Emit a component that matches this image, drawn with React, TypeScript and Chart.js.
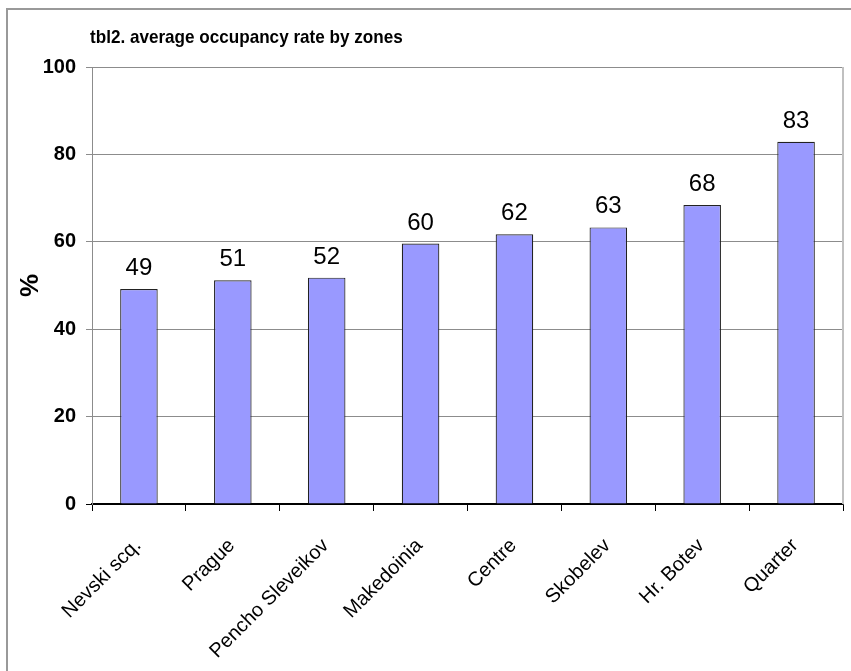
import React, { useEffect, useRef } from "react";
import { Chart, registerables } from "chart.js";

Chart.register(...registerables);

const TITLE = "tbl2. average occupancy rate by zones";
const Y_TITLE = "%";
const categories = [
  "Nevski scq.",
  "Prague",
  "Pencho Sleveikov",
  "Makedoinia",
  "Centre",
  "Skobelev",
  "Hr. Botev",
  "Quarter",
];
const occupancy = [49.2, 51.2, 51.8, 59.6, 61.7, 63.3, 68.4, 82.9];
const Y_MIN = 0;
const Y_MAX = 100;
const Y_STEP = 20;

const FONT = 'Arial, "Liberation Sans", sans-serif';

const decorPlugin = {
  id: "decor",
  afterDatasetsDraw(chart: any) {
    const { ctx, chartArea } = chart;
    ctx.save();
    // right border of plot area
    ctx.strokeStyle = "#c0c0c0";
    ctx.lineWidth = 2;
    ctx.beginPath();
    ctx.moveTo(chartArea.right, chartArea.top);
    ctx.lineTo(chartArea.right, chartArea.bottom);
    ctx.stroke();
    // data labels
    const meta = chart.getDatasetMeta(0);
    const data = chart.data.datasets[0].data as number[];
    ctx.fillStyle = "#000";
    ctx.font = `24px ${FONT}`;
    ctx.textAlign = "center";
    ctx.textBaseline = "alphabetic";
    meta.data.forEach((el: any, i: number) => {
      ctx.fillText(String(Math.round(data[i])), el.x, el.y - 14);
    });
    // chart title (slightly condensed like the original)
    ctx.font = `bold 19px ${FONT}`;
    ctx.textAlign = "left";
    ctx.translate(chartArea.left - 2, 43);
    ctx.scale(0.9, 1);
    ctx.fillText(TITLE, 0, 0);
    ctx.restore();
  },
};

export default function App() {
  const ref = useRef<HTMLCanvasElement | null>(null);
  useEffect(() => {
    if (!ref.current) return;
    const chart = new Chart(ref.current, {
      type: "bar",
      data: {
        labels: categories,
        datasets: [
          {
            data: occupancy,
            backgroundColor: "#9999ff",
            borderColor: "#222222",
            borderWidth: 1.2,
            categoryPercentage: 1,
            barPercentage: 0.4,
          },
        ],
      },
      options: {
        animation: false,
        responsive: false,
        devicePixelRatio: 1,
        layout: { padding: { top: 67, right: 8, bottom: 0, left: 0 } },
        plugins: {
          legend: { display: false },
          title: { display: false },
          tooltip: { enabled: false },
        },
        scales: {
          x: {
            afterFit: (s: any) => {
              s.height = 167;
            },
            grid: {
              display: true,
              drawOnChartArea: false,
              offset: true,
              tickLength: 7,
              color: "#000",
              lineWidth: 1,
            },
            border: { display: true, color: "#000", width: 1.5 },
            ticks: {
              color: "#000",
              font: { family: FONT, size: 20 },
              minRotation: 45,
              maxRotation: 45,
              padding: 23,
              labelOffset: -1,
              autoSkip: false,
            },
          },
          y: {
            min: Y_MIN,
            max: Y_MAX,
            afterFit: (s: any) => {
              s.width = 92;
            },
            grid: {
              color: (c: any) => (c.tick && c.tick.value === 0 ? "#000" : "#8c8c8c"),
              lineWidth: 1,
              tickLength: 6,
            },
            border: { display: true, color: "#8c8c8c", width: 1 },
            ticks: {
              stepSize: Y_STEP,
              color: "#000",
              padding: 10,
              font: { family: FONT, size: 20, weight: "bold" },
            },
            title: {
              display: true,
              text: Y_TITLE,
              color: "#000",
              font: { family: FONT, size: 26, weight: "bold" },
              padding: { top: 15, bottom: 0 },
            },
          },
        },
      },
      plugins: [decorPlugin],
    });
    return () => chart.destroy();
  }, []);

  return (
    <div
      style={{
        position: "absolute",
        left: 0,
        top: 0,
        width: 851,
        height: 671,
        overflow: "hidden",
        background: "#fff",
      }}
    >
      <div
        style={{
          position: "absolute",
          left: 6,
          top: 8,
          width: 900,
          height: 800,
          border: "2px solid #999",
        }}
      />
      <canvas
        ref={ref}
        width={851}
        height={671}
        style={{ position: "absolute", left: 0, top: 0, width: 851, height: 671 }}
      />
    </div>
  );
}
